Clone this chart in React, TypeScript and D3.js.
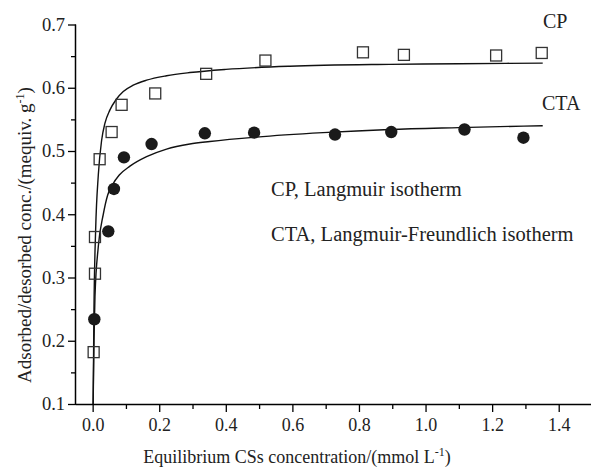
import React, { useEffect, useRef } from "react";
import * as d3 from "d3";

// CP measured points (open squares)
const cpX = [0.003, 0.007, 0.007, 0.021, 0.057, 0.087, 0.188, 0.341, 0.519, 0.812, 0.935, 1.212, 1.349];
const cpY = [0.182, 0.306, 0.364, 0.487, 0.530, 0.573, 0.591, 0.622, 0.643, 0.656, 0.652, 0.651, 0.655];

// CTA measured points (filled circles)
const ctaX = [0.005, 0.047, 0.064, 0.094, 0.177, 0.337, 0.485, 0.728, 0.897, 1.117, 1.294];
const ctaY = [0.234, 0.373, 0.440, 0.490, 0.511, 0.528, 0.529, 0.526, 0.530, 0.534, 0.521];

// Fitted curves
const cpFitX = [0.0015, 0.004, 0.009, 0.017, 0.027, 0.037, 0.052, 0.07, 0.092, 0.122, 0.162, 0.222, 0.292, 0.4, 0.592, 0.892, 1.1, 1.352];
const cpFitY = [0.1, 0.25, 0.375, 0.462, 0.517, 0.544, 0.565, 0.581, 0.594, 0.604, 0.612, 0.619, 0.624, 0.629, 0.634, 0.637, 0.638, 0.639];

const ctaFitX = [0.0015, 0.004, 0.007, 0.017, 0.032, 0.045, 0.06, 0.08, 0.112, 0.162, 0.222, 0.292, 0.352, 0.492, 0.692, 0.892, 1.1, 1.352];
const ctaFitY = [0.1, 0.2, 0.27, 0.349, 0.4, 0.43, 0.447, 0.462, 0.476, 0.491, 0.503, 0.511, 0.515, 0.522, 0.529, 0.534, 0.537, 0.54];

const xTicks = [0, 0.2, 0.4, 0.6, 0.8, 1.0, 1.2, 1.4];
const xMinor = [0.1, 0.3, 0.5, 0.7, 0.9, 1.1, 1.3];
const yTicks = [0.1, 0.2, 0.3, 0.4, 0.5, 0.6, 0.7];
const yMinor = [0.15, 0.25, 0.35, 0.45, 0.55, 0.65];

const FONT = "'Liberation Serif', 'Times New Roman', Times, serif";

export default function App() {
  const xAxisRef = useRef<SVGGElement>(null);
  const yAxisRef = useRef<SVGGElement>(null);
  const xMinRef = useRef<SVGGElement>(null);
  const yMinRef = useRef<SVGGElement>(null);

  const x = d3.scaleLinear().domain([-0.05, 1.5]).range([76, 592]);
  const y = d3.scaleLinear().domain([0.1, 0.7]).range([404, 24.5]);

  const line = d3
    .line<[number, number]>()
    .x((d) => x(d[0]))
    .y((d) => y(d[1]))
    .curve(d3.curveMonotoneX);

  const cpFit = cpFitX.map((v, i) => [v, cpFitY[i]] as [number, number]);
  const ctaFit = ctaFitX.map((v, i) => [v, ctaFitY[i]] as [number, number]);

  useEffect(() => {
    const fmt = d3.format(".1f");
    const xa = d3.select(xAxisRef.current!);
    xa.call(d3.axisBottom(x).tickValues(xTicks).tickFormat((d) => fmt(d as number)).tickSize(8).tickPadding(6) as any);
    xa.attr("font-family", FONT);
    xa.select(".domain").attr("stroke-width", 1.5).attr("d", `M76,0.5H592`);
    xa.selectAll(".tick line").attr("stroke-width", 1.3);
    xa.selectAll("text").attr("font-family", FONT).attr("font-size", 18).attr("fill", "#222");

    const ya = d3.select(yAxisRef.current!);
    ya.call(d3.axisLeft(y).tickValues(yTicks).tickFormat((d) => fmt(d as number)).tickSize(8).tickPadding(3) as any);
    ya.attr("font-family", FONT);
    ya.select(".domain").attr("stroke-width", 1.5).attr("d", `M-0.5,404V24.5`);
    ya.selectAll(".tick line").attr("stroke-width", 1.3);
    ya.selectAll("text").attr("font-family", FONT).attr("font-size", 18.5).attr("fill", "#222");

    const xm = d3.select(xMinRef.current!);
    xm.call(d3.axisBottom(x).tickValues(xMinor).tickFormat(() => "").tickSize(5) as any);
    xm.select(".domain").remove();
    xm.selectAll(".tick line").attr("stroke-width", 1.3);

    const ym = d3.select(yMinRef.current!);
    ym.call(d3.axisLeft(y).tickValues(yMinor).tickFormat(() => "").tickSize(5) as any);
    ym.select(".domain").remove();
    ym.selectAll(".tick line").attr("stroke-width", 1.3);
  }, []);

  return (
    <div style={{ position: "absolute", left: 0, top: 0 }}>
      <svg width={591} height={468} style={{ display: "block", background: "#fff" }}>
        <g ref={xMinRef} transform="translate(0,404)" />
        <g ref={yMinRef} transform="translate(76,0)" />
        <g ref={xAxisRef} transform="translate(0,404)" />
        <g ref={yAxisRef} transform="translate(76,0)" />

        <path d={line(cpFit) || ""} fill="none" stroke="#111" strokeWidth={1.4} />
        <path d={line(ctaFit) || ""} fill="none" stroke="#111" strokeWidth={1.4} />

        {cpX.map((v, i) => (
          <rect
            key={"cp" + i}
            x={x(v) - 5.5}
            y={y(cpY[i]) - 5.5}
            width={11}
            height={11}
            fill="none"
            stroke="#333"
            strokeWidth={1.3}
          />
        ))}
        {ctaX.map((v, i) => (
          <circle key={"cta" + i} cx={x(v)} cy={y(ctaY[i])} r={6.2} fill="#1a1a1a" />
        ))}

        <g fontFamily={FONT} fill="#222">
          <text x={543} y={28} fontSize={20}>CP</text>
          <text x={542} y={110} fontSize={20}>CTA</text>
          <text x={271} y={196} fontSize={20.5}>CP, Langmuir isotherm</text>
          <text x={271} y={241} fontSize={20.5}>CTA, Langmuir-Freundlich isotherm</text>
          <text x={297} y={463} fontSize={18} textAnchor="middle">
            Equilibrium CSs concentration/(mmol L
            <tspan fontSize={12} dy={-7}>-1</tspan>
            <tspan dy={7}>)</tspan>
          </text>
          <text transform="translate(31,235) rotate(-90)" fontSize={19} textAnchor="middle">
            Adsorbed/desorbed conc./(mequiv. g
            <tspan fontSize={12} dy={-7}>-1</tspan>
            <tspan dy={7}>)</tspan>
          </text>
        </g>
      </svg>
    </div>
  );
}
